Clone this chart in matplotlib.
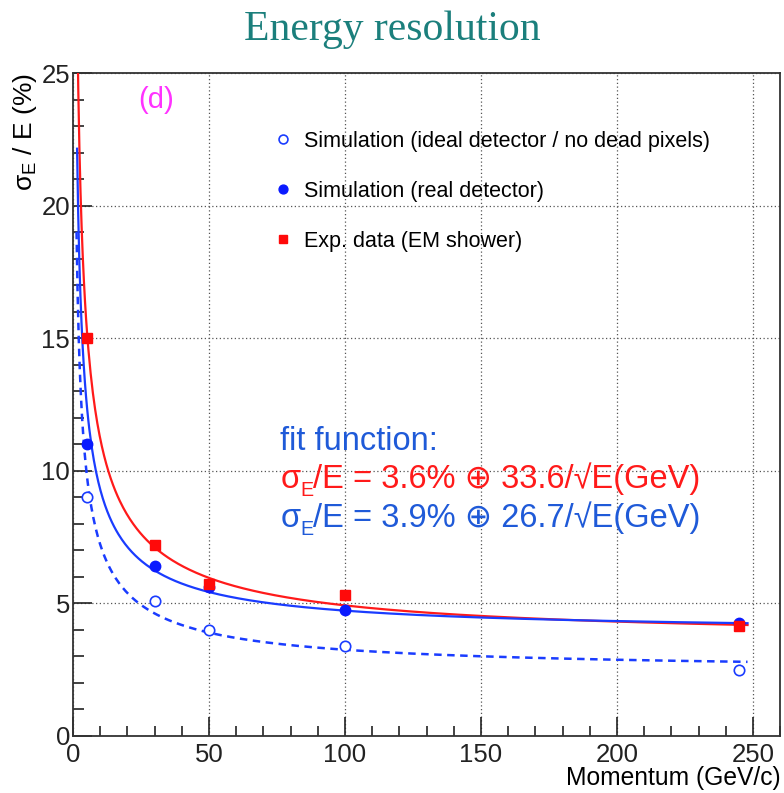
import numpy as np
import matplotlib
matplotlib.use('Agg')
import matplotlib.pyplot as plt
from matplotlib.ticker import MultipleLocator

plt.rcParams['font.family'] = ['Liberation Sans', 'DejaVu Sans']
plt.rcParams['mathtext.fontset'] = 'custom'
plt.rcParams['mathtext.rm'] = 'Liberation Sans'
plt.rcParams['mathtext.it'] = 'Liberation Sans'

# measured points (momentum in GeV/c, resolution in %)
p_ideal = [5, 30, 50, 100, 245]
res_ideal = [9.0, 5.1, 4.0, 3.4, 2.5]
p_real = [5, 30, 50, 100, 245]
res_real = [11.0, 6.4, 5.6, 4.75, 4.25]
p_exp = [5, 30, 50, 100, 245]
res_exp = [15.0, 7.2, 5.75, 5.3, 4.15]

# fit parameters: sigma/E = a (+) b/sqrt(E)
fit_exp = (3.6, 33.6)
fit_real = (3.9, 26.7)
fit_ideal = (2.44, 21.5)

def reso(E, a, b):
    return np.sqrt(a**2 + (b / np.sqrt(E))**2)

fig = plt.figure(figsize=(7.84, 7.93), dpi=100)
ax = fig.add_axes([0.0931, 0.0719, 0.902, 0.836])

red = '#ff1a1a'
blue = '#1a3cff'
txtblue = '#1f5ad8'

E1 = np.linspace(0.7, 248, 600)
E2 = np.linspace(1.5, 248, 600)
E3 = np.linspace(1.3, 248, 600)
ax.plot(E1, reso(E1, *fit_exp), color=red, lw=1.6, zorder=3)
ax.plot(E2, reso(E2, *fit_real), color=blue, lw=1.6, zorder=3)
ax.plot(E3, reso(E3, *fit_ideal), color=blue, lw=1.8, ls=(0, (3, 2.2)), zorder=3)

ax.plot(p_ideal, res_ideal, 'o', mfc='white', mec='#1a3cff', mew=1.2, ms=7.5,
        ls='none', zorder=4, label='Simulation (ideal detector / no dead pixels)')
ax.plot(p_real, res_real, 'o', color='#0a1aff', ms=7.5, ls='none', zorder=4,
        label='Simulation (real detector)')
ax.plot(p_exp, res_exp, 's', color='#ff0a0a', ms=7, ls='none', zorder=4,
        label='Exp. data (EM shower)')

ax.set_xlim(0, 260)
ax.set_ylim(0, 25)
ax.xaxis.set_major_locator(MultipleLocator(50))
ax.xaxis.set_minor_locator(MultipleLocator(10))
ax.yaxis.set_major_locator(MultipleLocator(5))
ax.yaxis.set_minor_locator(MultipleLocator(1))
ax.tick_params(axis='both', which='both', direction='in', labelsize=18.5,
               colors='#222222', width=1.2)
ax.tick_params(axis='x', which='major', length=14, pad=5)
ax.tick_params(axis='x', which='minor', length=7)
ax.tick_params(axis='y', which='major', length=14, pad=2)
ax.tick_params(axis='y', which='minor', length=8)
ax.grid(True, which='major', color='#555555', ls=(0, (1, 2)), lw=0.9)
for s in ax.spines.values():
    s.set_linewidth(1.3)
    s.set_color('#333333')

ax.set_xlabel('Momentum (GeV/c)', fontsize=17.7, loc='right', labelpad=-1)
ax.set_ylabel(r'$\mathregular{\sigma_E}$ / E (%)', fontsize=19, loc='top', labelpad=2)

leg = ax.legend(loc='upper left', bbox_to_anchor=(0.255, 0.942), frameon=False,
                fontsize=15.5, labelspacing=1.35, handletextpad=0.45,
                handlelength=1.0, markerscale=0.85)

ax.text(0.092, 0.98, '(d)', transform=ax.transAxes, color='#ff33ff',
        fontsize=21, ha='left', va='top')
ax.text(0.293, 0.431, 'fit function:', transform=ax.transAxes, color=txtblue,
        fontsize=23.5, ha='left', va='baseline')

def fit_line(y, rest, color, size=23.5):
    t = ax.text(0.293, y, 'σ', transform=ax.transAxes, color=color,
                fontsize=size, ha='left', va='bottom')
    s = ax.annotate('E', xy=(1, 0), xycoords=t, xytext=(0, -4),
                    textcoords='offset points', color=color,
                    fontsize=size * 0.6, ha='left', va='bottom')
    ax.annotate(rest, xy=(1, 0), xycoords=(s, t), color=color,
                fontsize=size, ha='left', va='bottom')

fit_line(0.364, '/E = 3.6% ⊕ 33.6/√E(GeV)', red)
fit_line(0.305, '/E = 3.9% ⊕ 26.7/√E(GeV)', txtblue)

fig.text(0.5, 0.963, 'Energy resolution', ha='center', va='center',
         fontsize=30, color='#1b7f7c', family='Liberation Serif')

fig.savefig('out.png', dpi=100)
